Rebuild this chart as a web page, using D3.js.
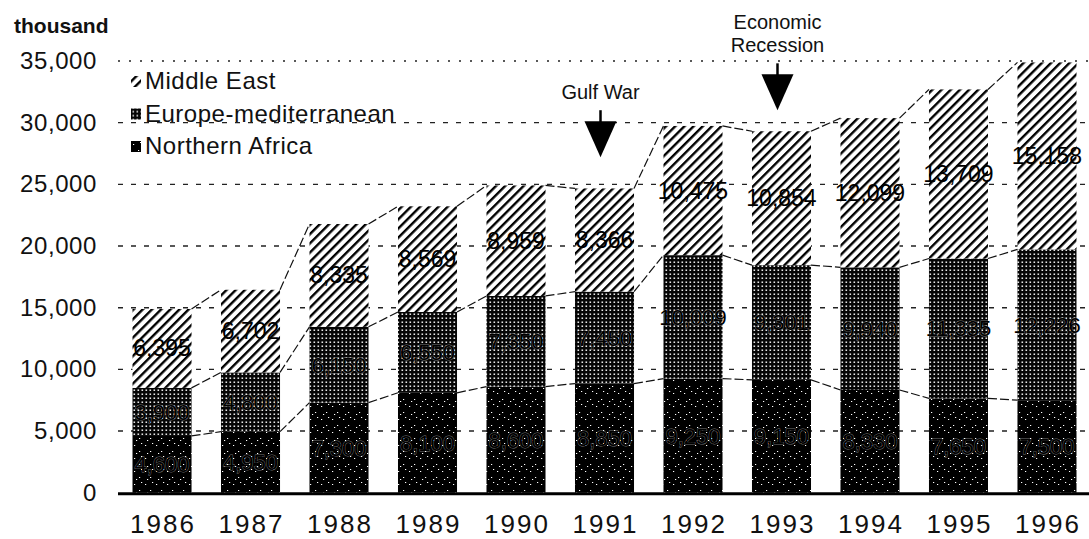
<!doctype html>
<html lang="en">
<head>
  <meta charset="utf-8">
  <title>Visitors by region 1986-1996</title>
  <script src="https://cdn.jsdelivr.net/npm/d3@7/dist/d3.min.js"></script>
  <style>
    body { margin: 0; background: #fff; }
    svg { display: block; font-family: "Liberation Sans", Arial, sans-serif; }
    .tick-label { font-size: 24px; fill: #111; letter-spacing: 0.6px; }
    .year-label { font-size: 26px; fill: #111; letter-spacing: 2px; }
    .legend-text { font-size: 24px; fill: #111; letter-spacing: 0.5px; }
    .annot { font-size: 20px; fill: #111; }
    .val { font-size: 23px; fill: #000; text-anchor: middle; }
    .val-dark { font-size: 22px; fill: #000; text-anchor: middle;
                stroke: #fff; stroke-width: 0.8; stroke-opacity: 0.45; paint-order: stroke; }
  </style>
</head>
<body>
<div id="chart"></div>

<script>

var years = ["1986","1987","1988","1989","1990","1991","1992","1993","1994","1995","1996"];

// thousand visitors
var northernAfrica = [4600, 4950, 7300, 8100, 8600, 8850, 9250, 9150, 8330, 7650, 7500];
var europeMed      = [3900, 4800, 6150, 6550, 7350, 7450, 10009, 9301, 9940, 11335, 12226];
var middleEast     = [6395, 6702, 8335, 8569, 8959, 8366, 10475, 10854, 12099, 13709, 15158];

var seriesNames = ["Northern Africa", "Europe-mediterranean", "Middle East"];
var legendOrder = ["Middle East", "Europe-mediterranean", "Northern Africa"];
var yTicks = [0, 5000, 10000, 15000, 20000, 25000, 30000, 35000];

var events = [
  { year: "1991", lines: ["Gulf War"], at: 27200 },
  { year: "1993", lines: ["Economic", "Recession"], at: 31000 }
];

var W = 1089, H = 539;

var svg = d3.select("#chart").append("svg")
    .attr("width", W)
    .attr("height", H);

// patterns ------------------------------------------------------------
var defs = svg.append("defs");

var hatch = defs.append("pattern")
    .attr("id", "pat-me")
    .attr("patternUnits", "userSpaceOnUse")
    .attr("width", 6.5).attr("height", 6.5)
    .attr("patternTransform", "rotate(45)");
hatch.append("rect").attr("width", 6.5).attr("height", 6.5).attr("fill", "#fff");
hatch.append("rect").attr("x", 0).attr("width", 2.4).attr("height", 6.5).attr("fill", "#000");

var dots = defs.append("pattern")
    .attr("id", "pat-eu")
    .attr("patternUnits", "userSpaceOnUse")
    .attr("width", 4).attr("height", 4);
dots.append("rect").attr("width", 4).attr("height", 4).attr("fill", "#050505");
dots.append("rect").attr("x", 1.5).attr("y", 1.5).attr("width", 1.6).attr("height", 1.4).attr("fill", "#fff");

var speck = defs.append("pattern")
    .attr("id", "pat-na")
    .attr("patternUnits", "userSpaceOnUse")
    .attr("width", 11).attr("height", 13);
speck.append("rect").attr("width", 11).attr("height", 13).attr("fill", "#000");
[[2,3],[7,9],[9,1],[4,11]].forEach(function(p) {
  speck.append("rect").attr("x", p[0]).attr("y", p[1]).attr("width", 1.2).attr("height", 1).attr("fill", "#fff");
});

var fills = {
  "Northern Africa": "url(#pat-na)",
  "Europe-mediterranean": "url(#pat-eu)",
  "Middle East": "url(#pat-me)"
};

// scales --------------------------------------------------------------
var x = d3.scaleBand()
    .domain(years)
    .range([117.75, 1091.25])
    .paddingInner(0.333)
    .paddingOuter(0.1667);

var y = d3.scaleLinear()
    .domain([0, 35000])
    .range([492.7, 61]);

var rows = years.map(function(yr, i) {
  return {
    year: yr,
    "Northern Africa": northernAfrica[i],
    "Europe-mediterranean": europeMed[i],
    "Middle East": middleEast[i]
  };
});

var stacked = d3.stack().keys(seriesNames)(rows);

// grid ----------------------------------------------------------------
svg.append("g").selectAll("line")
  .data(yTicks.filter(function(d) { return d > 0; }))
  .enter().append("line")
    .attr("x1", 118).attr("x2", W)
    .attr("y1", function(d) { return y(d); })
    .attr("y2", function(d) { return y(d); })
    .attr("stroke", "#222")
    .attr("stroke-width", 1.4)
    .attr("stroke-dasharray", function(d) { return d == 35000 ? "2,9" : "5,8"; });

// y labels
svg.append("g").selectAll("text")
  .data(yTicks)
  .enter().append("text")
    .attr("class", "tick-label")
    .attr("x", 97)
    .attr("y", function(d) { return y(d) + 8; })
    .attr("text-anchor", "end")
    .text(function(d) { return d3.format(",")(d); });

svg.append("text")
    .attr("x", 14).attr("y", 33)
    .style("font-size", "21px").style("font-weight", "bold").style("fill", "#111")
    .text("thousand");

// bars ----------------------------------------------------------------
var layer = svg.append("g").selectAll("g")
  .data(stacked)
  .enter().append("g")
    .attr("fill", function(d) { return fills[d.key]; });

layer.selectAll("rect")
  .data(function(d) { return d; })
  .enter().append("rect")
    .attr("x", function(d) { return x(d.data.year); })
    .attr("y", function(d) { return y(d[1]); })
    .attr("width", x.bandwidth())
    .attr("height", function(d) { return y(d[0]) - y(d[1]); });

// connecting lines between bar tops
stacked.forEach(function(s) {
  for (var i = 0; i < s.length - 1; i++) {
    svg.append("line")
      .attr("x1", x(years[i]) + x.bandwidth())
      .attr("y1", y(s[i][1]))
      .attr("x2", x(years[i + 1]))
      .attr("y2", y(s[i + 1][1]))
      .attr("stroke", "#111")
      .attr("stroke-width", 1.2)
      .attr("stroke-dasharray", "9,3");
  }
});

// value labels
stacked.forEach(function(s) {
  svg.append("g").selectAll("text")
    .data(s)
    .enter().append("text")
      .attr("class", s.key == "Middle East" ? "val" : "val-dark")
      .attr("x", function(d) { return x(d.data.year) + x.bandwidth() / 2; })
      .attr("y", function(d) { return (y(d[0]) + y(d[1])) / 2 + 8; })
      .text(function(d) { return d3.format(",")(d.data[s.key]); });
});

// baseline
svg.append("line")
    .attr("x1", 118).attr("x2", W)
    .attr("y1", y(0) + 1).attr("y2", y(0) + 1)
    .attr("stroke", "#000")
    .attr("stroke-width", 3);

// year labels
svg.append("g").selectAll("text")
  .data(years)
  .enter().append("text")
    .attr("class", "year-label")
    .attr("x", function(d) { return x(d) + x.bandwidth() / 2 + 1; })
    .attr("y", 533)
    .attr("text-anchor", "middle")
    .text(function(d) { return d; });

// legend --------------------------------------------------------------
var legend = svg.append("g").selectAll("g")
  .data(legendOrder)
  .enter().append("g")
    .attr("transform", function(d, i) { return "translate(131," + (89 + i * 32.5) + ")"; });

legend.append("rect")
    .attr("x", 0).attr("y", -13)
    .attr("width", 10).attr("height", 11)
    .attr("fill", function(d) { return fills[d]; });

legend.append("text")
    .attr("class", "legend-text")
    .attr("x", 14).attr("y", 0)
    .text(function(d) { return d; });

// event annotations ---------------------------------------------------
events.forEach(function(ev) {
  var cx = x(ev.year) + x.bandwidth() / 2 - 4;
  var tip = y(ev.at);
  var g = svg.append("g");
  var n = ev.lines.length;
  ev.lines.forEach(function(t, i) {
    g.append("text")
      .attr("class", "annot")
      .attr("x", cx)
      .attr("y", tip - 58 - (n - 1 - i) * 23)
      .attr("text-anchor", "middle")
      .text(t);
  });
  g.append("line")
    .attr("x1", cx).attr("x2", cx)
    .attr("y1", tip - 47).attr("y2", tip - 35)
    .attr("stroke", "#000").attr("stroke-width", 2.5);
  g.append("path")
    .attr("d", "M" + (cx - 16) + "," + (tip - 36) + "L" + (cx + 16) + "," + (tip - 36) + "L" + cx + "," + tip + "Z")
    .attr("fill", "#000");
});

</script>
</body>
</html>
